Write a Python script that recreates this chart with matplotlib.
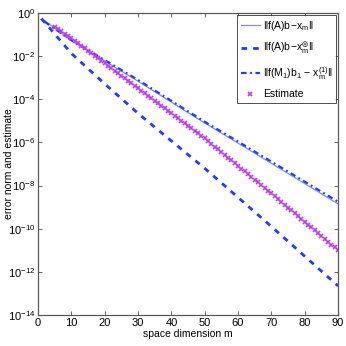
import matplotlib
matplotlib.use("Agg")
import matplotlib.pyplot as plt
import numpy as np

plt.rcParams['font.family'] = ['Liberation Sans', 'DejaVu Sans']
plt.rcParams['mathtext.fontset'] = 'custom'
plt.rcParams['mathtext.rm'] = 'Liberation Sans'
plt.rcParams['mathtext.it'] = 'Liberation Sans'
plt.rcParams['mathtext.default'] = 'regular'

# log10 of errors
m_solid = [2, 10, 20, 30, 40, 50, 60, 70, 80, 90]
log_solid = [-0.35, -1.28, -2.22, -3.16, -4.13, -5.10, -6.03, -6.97, -7.91, -8.85]

m_dashed = [1, 10, 20, 30, 40, 50, 60, 70, 80, 90]
log_dashed = [-0.25, -1.87, -3.28, -4.65, -5.93, -7.20, -8.55, -9.90, -11.28, -12.66]

m_dashdot = [2, 10, 20, 30, 40, 50, 60, 70, 80, 90]
log_dashdot = [-0.40, -1.25, -2.18, -3.10, -4.07, -5.04, -5.96, -6.89, -7.82, -8.75]

m_est = list(range(5, 91))
log_est = [-0.63, -0.74, -0.85, -0.95, -1.06, -1.17, -1.29, -1.40, -1.52, -1.63,
           -1.75, -1.87, -1.98, -2.10, -2.21, -2.33, -2.45, -2.56, -2.68, -2.79,
           -2.91, -3.03, -3.14, -3.26, -3.37, -3.49, -3.61, -3.72, -3.84, -3.95,
           -4.07, -4.19, -4.30, -4.42, -4.53, -4.65, -4.77, -4.88, -5.00, -5.11,
           -5.23, -5.35, -5.46, -5.58, -5.69, -5.81, -5.94, -6.07, -6.19, -6.32,
           -6.45, -6.58, -6.70, -6.83, -6.96, -7.09, -7.21, -7.34, -7.47, -7.60,
           -7.72, -7.85, -7.98, -8.11, -8.23, -8.36, -8.49, -8.62, -8.76, -8.89,
           -9.02, -9.15, -9.28, -9.42, -9.55, -9.68, -9.81, -9.94, -10.08, -10.21,
           -10.34, -10.47, -10.60, -10.74, -10.87, -11.00]

labels = [r'$\|f(A)b\!-\!x_m\|$',
          r'$\|f(A)b\!-\!x_m^{⊛}\|$',
          r'$\|f(M_1)b_1\,-\,x_m^{(1)}\|$',
          'Estimate']
xticks = list(range(0, 91, 10))
yexp = list(range(0, -15, -2))

fig = plt.figure(figsize=(3.46, 3.46), dpi=100)
ax = fig.add_axes([0.110, 0.090, 0.867, 0.872])

ax.semilogy(m_solid, 10.0 ** np.array(log_solid), '-', color='#7a90ff', lw=0.9, label=labels[0])
ax.semilogy(m_dashed, 10.0 ** np.array(log_dashed), '--', color='#1f3cff', lw=2.0,
            dashes=(2.0, 2.2), label=labels[1])
ax.semilogy(m_dashdot, 10.0 ** np.array(log_dashdot), '-.', color='#1f3cff', lw=1.6,
            dashes=(2.5, 1.6, 0.8, 1.6), label=labels[2])
ax.semilogy(m_est, 10.0 ** np.array(log_est), 'x', color='#c03cf0', ms=3.5, mew=1.2,
            linestyle='none', label=labels[3])

ax.set_xlim(0, 90)
ax.set_ylim(1e-14, 1e0)
ax.set_xticks(xticks)
ax.set_yticks([10.0 ** e for e in yexp])
ax.set_yticklabels([r'$10^{%d}$' % e for e in yexp])
ax.minorticks_off()
ax.tick_params(direction='in', top=True, right=True, labelsize=8, length=3,
               width=0.6, color='0.3', pad=2)
for s in ax.spines.values():
    s.set_color('0.35')
    s.set_linewidth(0.9)

ax.set_xlabel('space dimension m', fontsize=7.5, labelpad=1)
ax.set_ylabel('error norm and estimate', fontsize=7.5)
ax.yaxis.set_label_coords(-0.08, 0.5)

leg = ax.legend(loc='upper right', fontsize=7.5, frameon=True, fancybox=False,
                borderaxespad=0.2, handlelength=1.8, labelspacing=0.75,
                handletextpad=0.3, borderpad=0.35)
leg.get_frame().set_edgecolor('black')
leg.get_frame().set_linewidth(0.6)

fig.savefig('out.png', dpi=100)
